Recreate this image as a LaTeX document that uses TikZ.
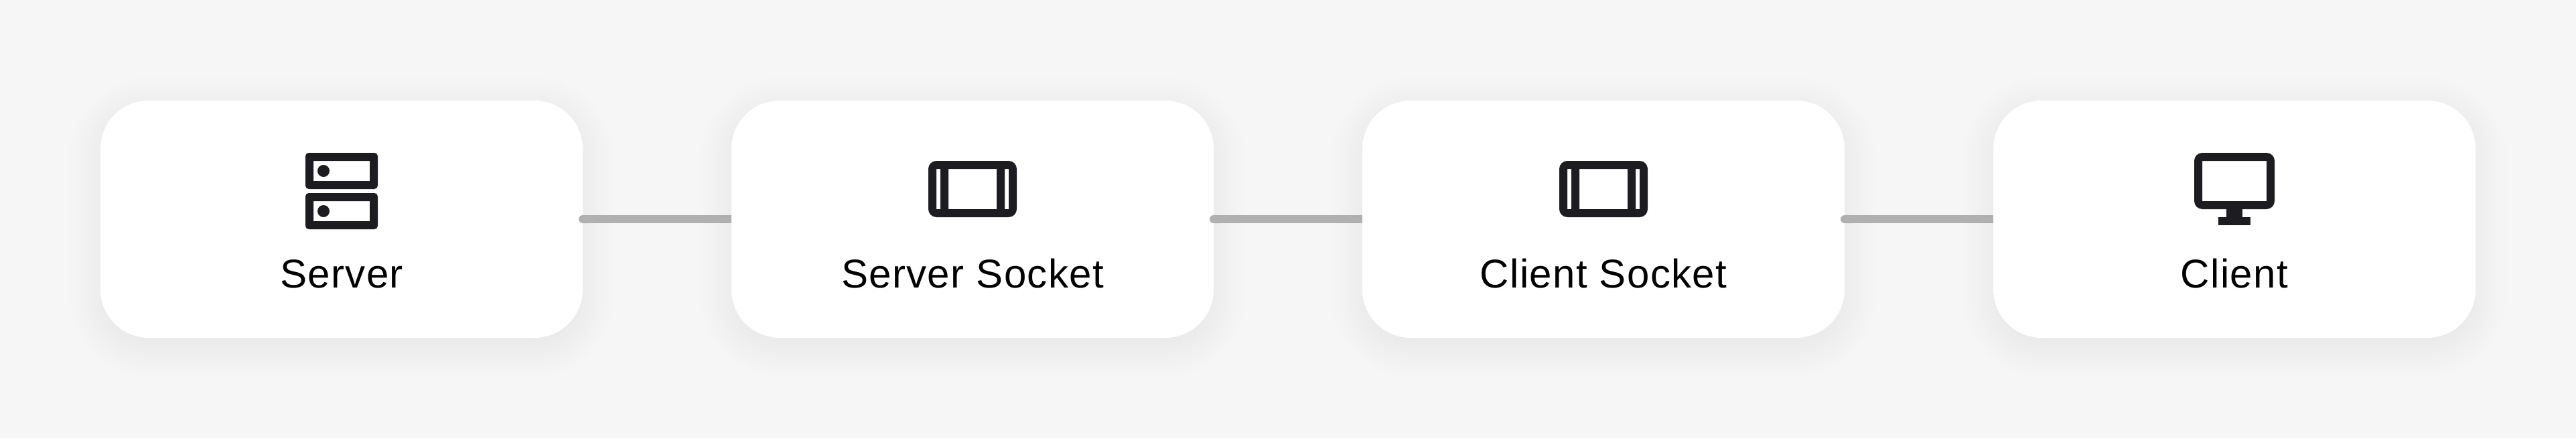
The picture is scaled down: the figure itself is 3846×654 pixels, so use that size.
\documentclass[tikz,border=0pt]{standalone}
\usepackage{fontspec}
\setmainfont[LetterSpace=2.3]{Liberation Sans}
\usetikzlibrary{positioning, backgrounds, arrows.meta}

\definecolor{pagegray}{HTML}{F6F6F6}
\definecolor{linkgray}{HTML}{B0B0B0}
\definecolor{iconink}{HTML}{1D1D21}

\tikzset{
    card/.style={minimum width=360pt, minimum height=177pt, inner sep=0pt, outer sep=0pt, fill=white, rounded corners=36pt},
    cardtext/.style={font=\fontsize{30}{36}\selectfont, text=black, inner sep=0pt, anchor=base},
    link/.style={line width=6pt, color=linkgray, {Round Cap}-},
    icon/.style={fill=iconink, even odd rule}
}

% soft shadow under a card
\newcommand{\cardshadow}[1]{
    \begin{scope}[on background layer]
        \foreach \g in {-30,-25,...,45} {
            \fill[black, opacity=.004, rounded corners=36pt+\g*.5pt]
                ([shift={(-\g,-\g-12)}]#1.south west) rectangle ([shift={(\g,\g-12)}]#1.north east);
        }
    \end{scope}
}

\newcommand{\servericon}[1]{
    \begin{scope}[shift={(#1.center)}]
        \fill[icon] [rounded corners=2.5pt] (-54,99) rectangle (54,45) [sharp corners] (-42,87) rectangle (42,57);
        \fill[icon] [rounded corners=2.5pt] (-54,39) rectangle (54,-15) [sharp corners] (-42,27) rectangle (42,-3);
        \fill[iconink] (-27,72) circle (9);
        \fill[iconink] (-27,12) circle (9);
    \end{scope}
}

\newcommand{\socketicon}[1]{
    \begin{scope}[shift={(#1.center)}]
        \fill[icon] [rounded corners=6pt] (-66,87) rectangle (66,3)
            [sharp corners] (-54,75) rectangle (-48,15) (-36,75) rectangle (36,15) (48,75) rectangle (54,15);
    \end{scope}
}

\newcommand{\clienticon}[1]{
    \begin{scope}[shift={(#1.center)}]
        \fill[icon] [rounded corners=6pt] (-60,99) rectangle (60,15) [sharp corners] (-48,87) rectangle (48,27);
        \fill[iconink] (-12,15) rectangle (12,3);
        \fill[iconink] (-24,3) rectangle (24,-9);
    \end{scope}
}

\begin{document}
\begin{tikzpicture}[x=.5pt, y=.5pt]
    \useasboundingbox (0,0) rectangle (3846,-654);
    \begin{scope}[on background layer]
        \fill[pagegray] (0,0) rectangle (3846,-654);
    \end{scope}

    \node[card] (server) at (510,-327) {};
    \node[card, right=111pt of server] (serverSocket) {};
    \node[card, right=111pt of serverSocket] (clientSocket) {};
    \node[card, right=111pt of clientSocket] (client) {};

    \cardshadow{server}
    \cardshadow{serverSocket}
    \cardshadow{clientSocket}
    \cardshadow{client}

    \servericon{server}
    \socketicon{serverSocket}
    \socketicon{clientSocket}
    \clienticon{client}

    \node[cardtext] (serverText) at ([yshift=-51pt]server.center) {Server};
    \node[cardtext] (serverSocketText) at ([yshift=-51pt]serverSocket.center) {Server Socket};
    \node[cardtext] (clientSocketText) at ([yshift=-51pt]clientSocket.center) {Client Socket};
    \node[cardtext] (clientText) at ([yshift=-51pt]client.center) {Client};

    \draw[link] ([xshift=-3pt]server.east) -- (serverSocket.west);
    \draw[link] ([xshift=-3pt]serverSocket.east) -- (clientSocket.west);
    \draw[link] ([xshift=-3pt]clientSocket.east) -- (client.west);
\end{tikzpicture}
\end{document}
